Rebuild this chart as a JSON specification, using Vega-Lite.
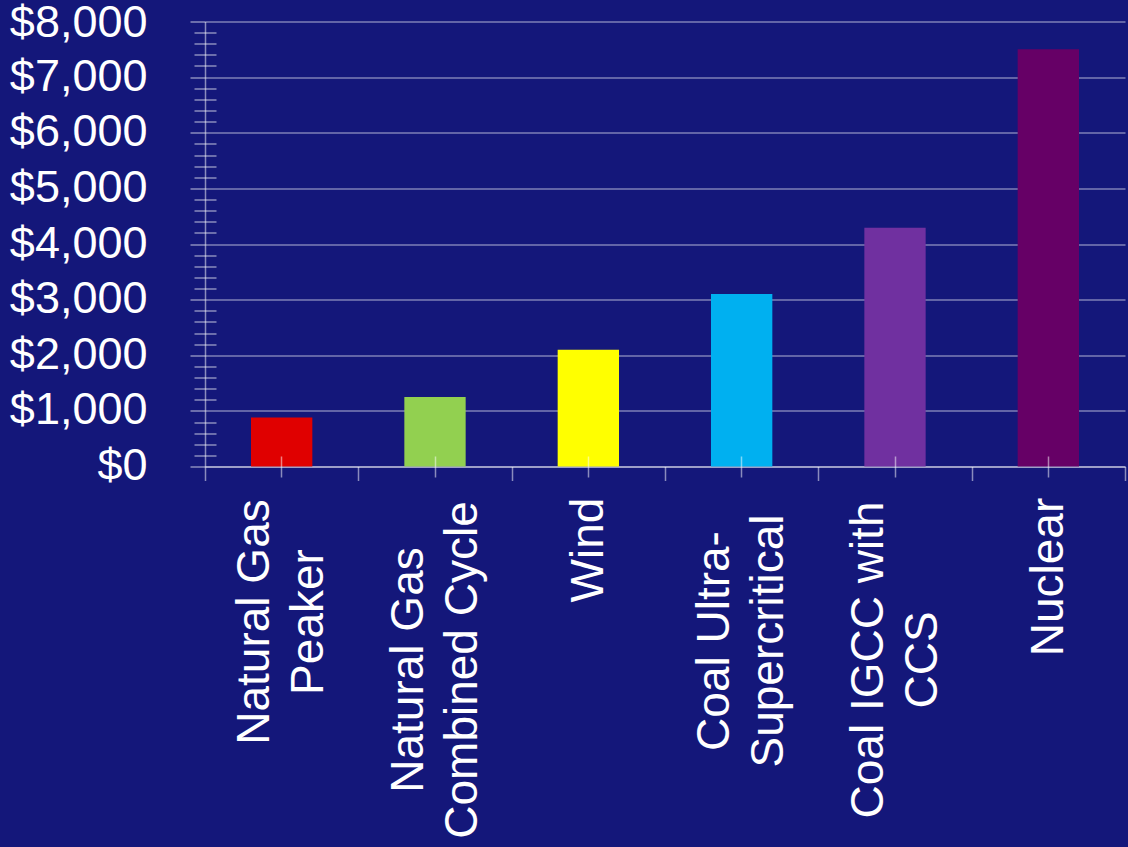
{
  "$schema": "https://vega.github.io/schema/vega-lite/v6.json",
  "width": 920,
  "height": 445,
  "autosize": {"type": "none"},
  "padding": {"left": 205, "top": 21.5, "right": 3, "bottom": 380.5},
  "background": "#14177a",
  "view": {"stroke": null},
  "config": {
    "font": "Liberation Sans",
    "axis": {
      "labelFont": "Liberation Sans",
      "labelColor": "#ffffff",
      "labelFontSize": 46,
      "labelLimit": 0,
      "domainColor": "#ffffff",
      "domainOpacity": 0.5,
      "domainWidth": 1.5,
      "tickColor": "#ffffff",
      "tickOpacity": 0.5,
      "tickWidth": 1.5,
      "gridColor": "#ffffff",
      "gridOpacity": 0.45,
      "gridWidth": 1.5,
      "title": null
    }
  },
  "data": {
    "values": [
      {"source": "Natural Gas Peaker", "cost": 880},
      {"source": "Natural Gas Combined Cycle", "cost": 1250},
      {"source": "Wind", "cost": 2100},
      {"source": "Coal Ultra-Supercritical", "cost": 3100},
      {"source": "Coal IGCC with CCS", "cost": 4290},
      {"source": "Nuclear", "cost": 7500}
    ]
  },
  "resolve": {"axis": {"x": "independent", "y": "independent"}},
  "layer": [
    {
      "mark": {"type": "bar", "width": {"band": 0.4}},
      "encoding": {
        "x": {
          "field": "source",
          "type": "nominal",
          "sort": null,
          "scale": {"paddingInner": 0, "paddingOuter": 0},
          "axis": {
            "orient": "bottom",
            "tickBand": "extent",
            "tickSize": 14,
            "labelAngle": -90,
            "labelAlign": "center",
            "labelBaseline": "middle",
            "labelLineHeight": 54,
            "labelExpr": "datum.value == 'Natural Gas Peaker' ? ['Natural Gas', 'Peaker'] : datum.value == 'Natural Gas Combined Cycle' ? ['Natural Gas', 'Combined Cycle'] : datum.value == 'Coal Ultra-Supercritical' ? ['Coal Ultra-', 'Supercritical'] : datum.value == 'Coal IGCC with CCS' ? ['Coal IGCC with', 'CCS'] : datum.value",
            "labelPadding": {"expr": "datum.value == 'Natural Gas Peaker' ? 141 : datum.value == 'Natural Gas Combined Cycle' ? 189 : datum.value == 'Wind' ? 69 : datum.value == 'Coal Ultra-Supercritical' ? 160 : datum.value == 'Coal IGCC with CCS' ? 179 : 96"},
            "labelOffset": {"expr": "(datum.value == 'Wind' || datum.value == 'Nuclear') ? 0 : -27"},
            "grid": false,
            "zindex": 0
          }
        },
        "y": {
          "field": "cost",
          "type": "quantitative",
          "scale": {"domain": [0, 8000], "nice": false},
          "axis": {
            "orient": "left",
            "values": [0, 1000, 2000, 3000, 4000, 5000, 6000, 7000, 8000],
            "format": "$,d",
            "tickSize": 15,
            "labelPadding": 43,
            "labelFontSize": 45,
            "labelBaseline": "middle",
            "labelOffset": {"expr": "datum.value == 8000 ? 1 : -1"},
            "grid": true,
            "zindex": 0
          }
        },
        "color": {
          "field": "source",
          "type": "nominal",
          "sort": null,
          "scale": {
            "domain": ["Natural Gas Peaker", "Natural Gas Combined Cycle", "Wind", "Coal Ultra-Supercritical", "Coal IGCC with CCS", "Nuclear"],
            "range": ["#e00000", "#92d050", "#ffff00", "#00b0f0", "#7030a0", "#660066"]
          },
          "legend": null
        }
      }
    },
    {
      "mark": {"type": "bar", "opacity": 0, "width": {"band": 0.4}},
      "encoding": {
        "x": {
          "field": "source",
          "type": "nominal",
          "sort": null,
          "axis": {
            "orient": "bottom",
            "tickBand": "center",
            "tickSize": 21,
            "offset": -10.5,
            "labels": false,
            "domain": false,
            "grid": false,
            "zindex": 2
          }
        },
        "y": {
          "field": "cost",
          "type": "quantitative",
          "axis": {
            "orient": "left",
            "values": [200, 400, 600, 800, 1200, 1400, 1600, 1800, 2200, 2400, 2600, 2800, 3200, 3400, 3600, 3800, 4200, 4400, 4600, 4800, 5200, 5400, 5600, 5800, 6200, 6400, 6600, 6800, 7200, 7400, 7600, 7800],
            "tickSize": 22,
            "offset": -11,
            "labels": false,
            "domain": false,
            "grid": false,
            "zindex": 2
          }
        }
      }
    }
  ]
}
